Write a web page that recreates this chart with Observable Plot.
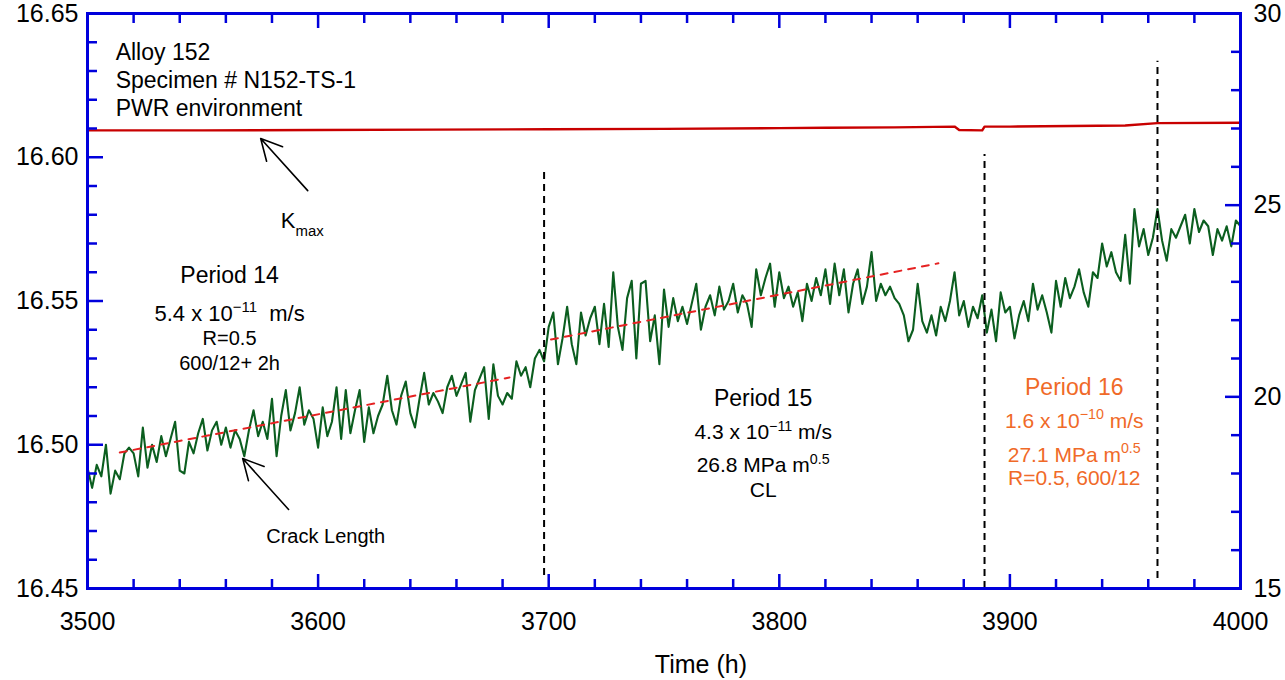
<!DOCTYPE html>
<html><head><meta charset="utf-8">
<script src="https://cdn.jsdelivr.net/npm/d3@7"></script>
<script src="https://cdn.jsdelivr.net/npm/@observablehq/plot@0.6"></script>
<style>body{margin:0;background:#fff;}</style>
</head><body><div id="chart"></div>
<script>
// ---- data ----
const crackStart = 3500, crackStep = 2; // sampling grid (h)
const crackLength = [
16.492,16.485,16.493,16.489,16.500,16.483,16.491,16.488,16.497,16.499,
16.497,16.489,16.506,16.492,16.500,16.494,16.503,16.496,16.502,16.508,
16.491,16.490,16.501,16.497,16.504,16.509,16.498,16.505,16.508,16.500,
16.506,16.499,16.505,16.502,16.496,16.505,16.512,16.503,16.508,16.502,
16.516,16.496,16.510,16.519,16.505,16.511,16.520,16.507,16.512,16.509,
16.499,16.513,16.503,16.508,16.520,16.502,16.519,16.504,16.512,16.519,
16.501,16.513,16.504,16.510,16.514,16.524,16.512,16.507,16.517,16.522,
16.511,16.506,16.516,16.525,16.514,16.518,16.515,16.511,16.520,16.524,
16.517,16.521,16.525,16.508,16.519,16.523,16.527,16.509,16.528,16.517,
16.514,16.518,16.516,16.529,16.524,16.527,16.520,16.530,16.533,16.529,
16.541,16.546,16.528,16.537,16.548,16.535,16.528,16.546,16.538,16.544,
16.548,16.535,16.549,16.534,16.560,16.541,16.533,16.551,16.557,16.530,
16.556,16.557,16.536,16.545,16.528,16.554,16.541,16.551,16.543,16.548,
16.542,16.549,16.556,16.540,16.548,16.552,16.545,16.555,16.547,16.550,
16.556,16.546,16.552,16.549,16.541,16.561,16.552,16.558,16.563,16.548,
16.560,16.551,16.555,16.548,16.553,16.543,16.556,16.550,16.558,16.552,
16.561,16.549,16.563,16.552,16.561,16.546,16.556,16.561,16.549,16.555,
16.567,16.550,16.556,16.552,16.555,16.551,16.549,16.545,16.536,16.540,
16.556,16.543,16.539,16.545,16.538,16.548,16.543,16.550,16.560,16.545,
16.550,16.541,16.548,16.544,16.552,16.539,16.547,16.536,16.553,16.546,
16.548,16.537,16.545,16.550,16.543,16.556,16.547,16.552,16.546,16.539,
16.557,16.548,16.558,16.551,16.555,16.561,16.553,16.548,16.560,16.558,
16.570,16.562,16.567,16.560,16.557,16.573,16.556,16.582,16.569,16.575,
16.566,16.572,16.582,16.571,16.564,16.575,16.572,16.576,16.580,16.570,
16.582,16.574,16.578,16.576,16.566,16.575,16.571,16.576,16.569,16.578,
16.576
];
const kmaxTime  = [3500,3550,3600,3650,3700,3750,3800,3820,3850,3876,3878,3888,3889,3900,3950,3964,4000];
const kmaxValue = [26.95,26.95,26.96,26.97,26.98,26.99,27.01,27.02,27.03,27.05,26.96,26.95,27.05,27.05,27.08,27.14,27.15];

const fitSeg   = ["p14","p14","p15","p15"];
const fitTime  = [3514,3683,3701,3869];
const fitValue = [16.4973,16.5234,16.5366,16.5631];

const periodLineTime = [3698,3889,3964];
const periodLineTop  = [16.5954,16.601,16.6334];
const periodLineBot  = [16.4545,16.450,16.4535];

const leftTicks  = [16.45,16.50,16.55,16.60,16.65];
const rightTicks = [15,20,25,30];
const xTicks     = [3500,3600,3700,3800,3900,4000];

// ---- derived ----
const toLeft = k => 16.45 + (k - 15) / 15 * 0.2;
const crack = crackLength.map((v, i) => ({t: crackStart + i * crackStep, v}));
const kmax = kmaxTime.map((t, i) => ({t, v: toLeft(kmaxValue[i])}));
const fit = fitTime.map((t, i) => ({t, v: fitValue[i], seg: fitSeg[i]}));
const plines = periodLineTime.map((t, i) => ({t, y1: periodLineBot[i], y2: periodLineTop[i]}));

const xMinor = d3.range(3520, 4000, 20).filter(d => d % 100 !== 0);
const yMinorL = d3.range(16.46, 16.645, 0.01).filter(d => Math.abs(Math.round(d * 20) - d * 20) > 1e-6);
const yMinorR = d3.range(16, 30, 1).filter(d => d % 5 !== 0).map(toLeft);

const W = 1285, H = 680, mL = 87, mR = 45, mT = 13, mB = 92;
const fw = W - mL - mR, fh = H - mT - mB;
const blue = "#0000dc", green = "#0b5e1f", orange = "#f06a28";

const arrows = [
  {x1: 3595.5, y1: 16.5884, x2: 3575.1, y2: 16.6065},
  {x1: 3587.2, y1: 16.4775, x2: 3567.3, y2: 16.4952}
];
const infoText = [
  {t: 3512.2, v: 16.6364, s: "Alloy 152"},
  {t: 3512.2, v: 16.6267, s: "Specimen # N152-TS-1"},
  {t: 3512.2, v: 16.6170, s: "PWR environment"}
];
const p14 = [
  {t: 3561.6, v: 16.5587, s: "Period 14", f: 23},
  {t: 3561.6, v: 16.5455, s: "5.4 x 10^{−11}  m/s", f: 22},
  {t: 3561.6, v: 16.5368, s: "R=0.5", f: 20},
  {t: 3561.6, v: 16.5281, s: "600/12+ 2h", f: 20}
];
const p15 = [
  {t: 3793.0, v: 16.5159, s: "Period 15", f: 23},
  {t: 3793.0, v: 16.5042, s: "4.3 x 10^{−11} m/s", f: 21},
  {t: 3793.0, v: 16.4927, s: "26.8 MPa m^{0.5}", f: 21},
  {t: 3793.0, v: 16.4842, s: "CL", f: 21}
];
const p16 = [
  {t: 3927.9, v: 16.5197, s: "Period 16", f: 23},
  {t: 3927.9, v: 16.5083, s: "1.6 x 10^{−10} m/s", f: 21},
  {t: 3927.9, v: 16.4965, s: "27.1 MPa m^{0.5}", f: 21},
  {t: 3927.9, v: 16.4882, s: "R=0.5, 600/12", f: 21}
];

const textMarks = (rows, fill) => rows.map(r => Plot.text([r], {x: "t", y: "v", text: "s", fontSize: r.f, fill, textAnchor: "middle"}));

const chart = Plot.plot({
  width: W, height: H,
  marginLeft: mL, marginRight: mR, marginTop: mT, marginBottom: mB,
  style: {fontFamily: "'Liberation Sans', Arial, sans-serif", background: "white", color: "black"},
  x: {domain: [3500, 4000]},
  y: {domain: [16.45, 16.65]},
  marks: [
    Plot.line(kmax, {x: "t", y: "v", stroke: "#c80000", strokeWidth: 2.4}),
    Plot.line(crack, {x: "t", y: "v", stroke: green, strokeWidth: 2.1}),
    Plot.line(fit, {x: "t", y: "v", z: "seg", stroke: "#e52222", strokeWidth: 2, strokeDasharray: "7,7"}),
    Plot.ruleX(plines, {x: "t", y1: "y1", y2: "y2", stroke: "black", strokeWidth: 2, strokeDasharray: "7,5"}),
    Plot.arrow(arrows, {x1: "x1", y1: "y1", x2: "x2", y2: "y2", stroke: "black", strokeWidth: 1.6, headLength: 22, headAngle: 55}),
    Plot.text(infoText, {x: "t", y: "v", text: "s", fontSize: 23, textAnchor: "start", fill: "black"}),
    ...textMarks(p14, "black"),
    ...textMarks(p15, "black"),
    ...textMarks(p16, orange),
    Plot.text(["Crack Length"], {x: 3603.3, y: 16.4682, text: d => d, fontSize: 20, fill: "black"}),
    Plot.text(["K_{max}"], {x: 3583.8, y: 16.5777, text: d => d, fontSize: 22, textAnchor: "start", fill: "black"}),
    // ticks
    Plot.tickX(xTicks, {x: d => d, insetTop: fh - 14, stroke: blue, strokeWidth: 2.5}),
    Plot.tickX(xTicks, {x: d => d, insetBottom: fh - 15, stroke: blue, strokeWidth: 2.5}),
    Plot.tickX(xMinor, {x: d => d, insetTop: fh - 9, stroke: blue, strokeWidth: 2.5}),
    Plot.tickX(xMinor, {x: d => d, insetBottom: fh - 10, stroke: blue, strokeWidth: 2.5}),
    Plot.tickY(leftTicks, {y: d => d, insetRight: fw - 16, stroke: blue, strokeWidth: 2.5}),
    Plot.tickY(yMinorL, {y: d => d, insetRight: fw - 10, stroke: blue, strokeWidth: 2.5}),
    Plot.tickY(rightTicks.map(toLeft), {y: d => d, insetLeft: fw - 15, stroke: blue, strokeWidth: 2.5}),
    Plot.tickY(yMinorR, {y: d => d, insetLeft: fw - 9, stroke: blue, strokeWidth: 2.5}),
    // axes labels
    Plot.axisX(xTicks, {tickSize: 0, tickPadding: 24, fontSize: 25, label: null, tickFormat: d => String(d)}),
    Plot.axisY(leftTicks, {anchor: "left", tickSize: 0, tickPadding: 9, fontSize: 25, label: null, tickFormat: d => d.toFixed(2)}),
    Plot.axisY(rightTicks.map(toLeft), {anchor: "right", tickSize: 0, tickPadding: 13, fontSize: 25, label: null,
      tickFormat: v => String(Math.round(15 + (v - 16.45) / 0.2 * 15))}),
    Plot.text(["Time (h)"], {x: 3766, frameAnchor: "bottom", dy: 67, lineAnchor: "top", text: d => d, fontSize: 25, fill: "black"}),
    Plot.frame({stroke: blue, strokeWidth: 3})
  ]
});

function richText(svg) {
  svg.querySelectorAll("text").forEach(el => {
    const s = el.textContent;
    if (!/[\^_]\{/.test(s)) return;
    const g = el.closest("[font-size]");
    const fs = parseFloat(el.getAttribute("font-size") || (g && g.getAttribute("font-size")) || 20);
    while (el.firstChild) el.removeChild(el.firstChild);
    const parts = s.split(/([\^_]\{[^}]*\})/).filter(p => p !== "");
    let shift = 0;
    parts.forEach(p => {
      const t = document.createElementNS("http://www.w3.org/2000/svg", "tspan");
      let target = 0, txt = p, small = false;
      if (p.startsWith("^{")) { target = -0.42 * fs; txt = p.slice(2, -1); small = true; }
      else if (p.startsWith("_{")) { target = 0.35 * fs; txt = p.slice(2, -1); small = true; }
      if (target - shift !== 0) t.setAttribute("dy", target - shift);
      shift = target;
      if (small) t.setAttribute("font-size", 0.68 * fs);
      t.textContent = txt;
      el.appendChild(t);
    });
  });
}
richText(chart);
document.getElementById("chart").appendChild(chart);
</script></body></html>
